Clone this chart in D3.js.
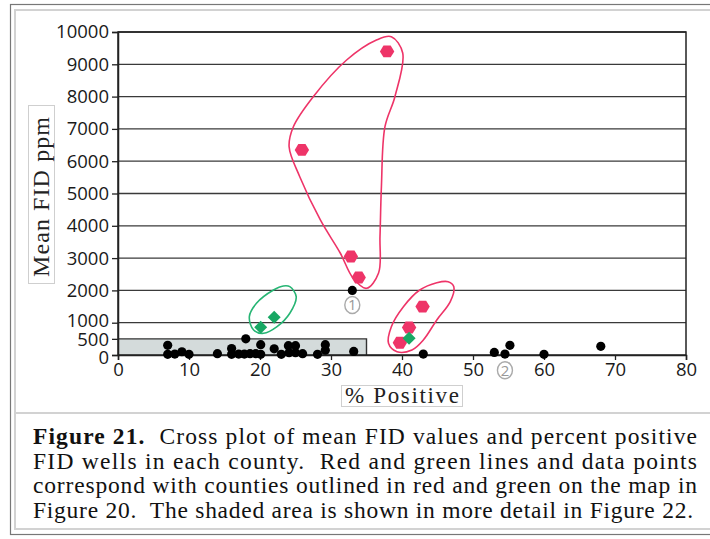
<!DOCTYPE html>
<html>
<head>
<meta charset="utf-8">
<script src="https://cdn.jsdelivr.net/npm/d3@7"></script>
<style>
  html, body { margin: 0; padding: 0; background: #fff; }
  svg { display: block; }
  .serif { font-family: "Liberation Serif", "Times New Roman", Times, serif; }
</style>
</head>
<body>
<svg id="chart" width="710" height="539"></svg>
<script>
// Mean FID (ppm) vs % positive FID wells, by county
const xTicks = [0, 10, 20, 30, 40, 50, 60, 70, 80];
const yTicks = [0, 500, 1000, 2000, 3000, 4000, 5000, 6000, 7000, 8000, 9000, 10000];
const gridValues = [1000, 2000, 3000, 4000, 5000, 6000, 7000, 8000, 9000, 10000];

// Counties outlined in red
const redPct = [37.9, 25.9, 32.8, 33.9, 42.9, 41.0, 39.7];
const redFid = [9400, 6350, 3050, 2400, 1500, 850, 380];

// Counties outlined in green
const greenPct = [20.1, 22.0, 41.0];
const greenFid = [860, 1170, 515];

// All other counties
const blackPct = [7, 7, 8, 9, 10, 14, 16, 16, 17, 18, 17.8, 18.6, 19.4, 20.1, 20.1, 22, 23, 24, 24.1, 25, 25, 26, 28.1, 29.2, 29.2, 33.2, 33, 43, 53, 54.5, 55.2, 60, 68];
const blackFid = [300, 20, 30, 100, 20, 40, 200, 20, 30, 500, 30, 40, 40, 320, 20, 190, 20, 290, 70, 290, 70, 40, 20, 320, 150, 110, 2000, 30, 80, 30, 300, 20, 270];

// Shaded region detailed in Figure 22
const shadedPct = [0, 35];
const shadedFid = [0, 500];

// Hand-drawn outlines around grouped counties (% positive, ppm)
const redLoopA = [[38.5, 9854], [40.1, 9350], [39.0, 7997], [37.6, 7068], [37.1, 5211], [36.9, 3663], [36.7, 2539], [35.0, 2065], [33.1, 2384], [31.3, 3158], [28.5, 4180], [25.6, 5520], [24.1, 6449], [24.7, 7068], [27.5, 7997], [32.2, 9133], [36.4, 9752]];
const redLoopB = [[46.5, 2269], [47.3, 2115], [46.8, 1650], [44.9, 1084], [43.0, 464], [41.4, 155], [39.3, 102], [38.1, 362], [38.5, 876], [40.2, 1495], [42.5, 2012], [44.9, 2238]];
const greenLoop = [[24.2, 2115], [25.1, 1805], [24.2, 1291], [22.4, 876], [20.5, 672], [19.1, 774], [18.5, 1186], [19.5, 1600], [21.9, 2012], [23.3, 2136]];

// Numbered callouts
const calloutLabels = ["1", "2"];
const calloutPct = [33, 54.5];
const calloutFid = [1550, -470];

const captionLines = [
  ["Figure 21.", "  Cross plot of mean FID values and percent positive"],
  ["", "FID wells in each county.  Red and green lines and data points"],
  ["", "correspond with counties outlined in red and green on the map in"],
  ["", "Figure 20.  The shaded area is shown in more detail in Figure 22."]
];

const RED = "#ee3468", GREEN = "#18a864", GREENLINE = "#27b574";
const svg = d3.select("#chart");

// Outer frame
svg.append("rect").attr("x", 10.5).attr("y", 4.5).attr("width", 720).attr("height", 530)
  .attr("fill", "none").attr("stroke", "#777").attr("stroke-width", 1.2);
svg.append("rect").attr("x", 15).attr("y", 10).attr("width", 720).attr("height", 519)
  .attr("fill", "none").attr("stroke", "#d2d2d2").attr("stroke-width", 2);
svg.append("line").attr("x1", 15).attr("x2", 710).attr("y1", 413).attr("y2", 413)
  .attr("stroke", "#d2d2d2").attr("stroke-width", 2);

const plot = { left: 118, right: 686, top: 32, bottom: 355 };
const x = d3.scaleLinear().domain([0, 80]).range([plot.left, plot.right]);
const y = d3.scaleLinear().domain([0, 10000]).range([plot.bottom, plot.top]);

// Shaded area
svg.append("rect")
  .attr("x", x(shadedPct[0])).attr("y", y(shadedFid[1]))
  .attr("width", x(shadedPct[1]) - x(shadedPct[0]))
  .attr("height", y(shadedFid[0]) - y(shadedFid[1]))
  .attr("fill", "#d4dbdb");
svg.append("path")
  .attr("d", `M${x(shadedPct[0])},${y(shadedFid[1])}H${x(shadedPct[1])}V${y(shadedFid[0])}`)
  .attr("fill", "none").attr("stroke", "#333").attr("stroke-width", 1.4);

// Gridlines
svg.append("g").selectAll("line").data(gridValues).join("line")
  .attr("x1", plot.left).attr("x2", plot.right)
  .attr("y1", d => y(d)).attr("y2", d => y(d))
  .attr("stroke", "#3a3a3a").attr("stroke-width", 1.3);

// Plot frame
svg.append("rect").attr("x", plot.left).attr("y", plot.top)
  .attr("width", plot.right - plot.left).attr("height", plot.bottom - plot.top)
  .attr("fill", "none").attr("stroke", "#222").attr("stroke-width", 1.5);

// Axes
const tickFont = "'Open Sans', 'DejaVu Sans', sans-serif";
const yAxis = svg.append("g").attr("transform", `translate(${plot.left},0)`)
  .call(d3.axisLeft(y).tickValues(yTicks).tickSize(6).tickPadding(3).tickFormat(d3.format("d")));
const xAxis = svg.append("g").attr("transform", `translate(0,${plot.bottom})`)
  .call(d3.axisBottom(x).tickValues(xTicks).tickSize(5).tickPadding(3).tickFormat(d3.format("d")));
[yAxis, xAxis].forEach(g => {
  g.select(".domain").attr("stroke", "#222").attr("stroke-width", 1.5);
  g.selectAll(".tick line").attr("stroke", "#222").attr("stroke-width", 1.3);
  g.selectAll(".tick text").attr("fill", "#1a1a1a")
    .style("font-family", tickFont).style("font-size", "18.5px");
});
// 1000 and 500 sit close together; tighten their labels a little
yAxis.selectAll(".tick text").filter(d => d === 1000).attr("dy", "0.22em");
yAxis.selectAll(".tick text").filter(d => d === 500).attr("dy", "0.36em");
yAxis.selectAll(".tick text").filter(d => d === 0).attr("dy", "0.45em");

// Group outlines
const loopLine = d3.line().x(d => x(d[0])).y(d => y(d[1])).curve(d3.curveCatmullRomClosed.alpha(0.5));
svg.append("path").attr("d", loopLine(redLoopA)).attr("fill", "none").attr("stroke", RED).attr("stroke-width", 1.6);
svg.append("path").attr("d", loopLine(redLoopB)).attr("fill", "none").attr("stroke", RED).attr("stroke-width", 1.6);
svg.append("path").attr("d", loopLine(greenLoop)).attr("fill", "none").attr("stroke", GREENLINE).attr("stroke-width", 1.6);

// Black points
svg.append("g").selectAll("circle").data(d3.range(blackPct.length)).join("circle")
  .attr("cx", i => x(blackPct[i])).attr("cy", i => y(blackFid[i])).attr("r", 4.6)
  .attr("fill", "#000");

// Red hexagons
const hex = r => d3.range(6).map(k => {
  const a = Math.PI / 3 * k;
  return [r * Math.cos(a), r * Math.sin(a) * 0.95];
});
svg.append("g").selectAll("polygon").data(d3.range(redPct.length)).join("polygon")
  .attr("points", hex(7.2).map(p => p.join(",")).join(" "))
  .attr("transform", i => `translate(${x(redPct[i])},${y(redFid[i])})`)
  .attr("fill", RED);

// Green diamonds
svg.append("g").selectAll("rect").data(d3.range(greenPct.length)).join("rect")
  .attr("x", -4.6).attr("y", -4.6).attr("width", 9.2).attr("height", 9.2)
  .attr("transform", i => `translate(${x(greenPct[i])},${y(greenFid[i])}) rotate(45)`)
  .attr("fill", GREEN);

// Callouts
const callouts = svg.append("g").selectAll("g").data(d3.range(calloutLabels.length)).join("g")
  .attr("transform", i => `translate(${x(calloutPct[i])},${y(calloutFid[i])})`);
callouts.append("ellipse").attr("rx", 7.5).attr("ry", 8.5).attr("fill", "#fff").attr("stroke", "#aaa").attr("stroke-width", 1.4);
callouts.append("text").text(i => calloutLabels[i])
  .attr("text-anchor", "middle").attr("dy", "0.36em")
  .style("font-family", tickFont).style("font-size", "15px").attr("fill", "#999");

// Axis titles
svg.append("rect").attr("x", 28.5).attr("y", 105.5).attr("width", 26).attr("height", 178)
  .attr("fill", "#fff").attr("stroke", "#cfcfcf");
svg.append("text").attr("class", "serif").text("Mean FID ppm")
  .attr("transform", "translate(49,277) rotate(-90)")
  .attr("textLength", 160).attr("lengthAdjust", "spacing")
  .style("font-size", "24px").attr("fill", "#222");

svg.append("rect").attr("x", 341.5).attr("y", 385.5).attr("width", 121).attr("height", 21)
  .attr("fill", "#fff").attr("stroke", "#cfcfcf");
svg.append("text").attr("class", "serif").text("% Positive")
  .attr("x", 345).attr("y", 403)
  .attr("textLength", 114).attr("lengthAdjust", "spacing")
  .style("font-size", "23px").attr("fill", "#222");

// Caption, justified to the box width
const capW = [664, 664, 664, 660];
captionLines.forEach((ln, i) => {
  const t = svg.append("text").attr("class", "serif")
    .attr("x", 33).attr("y", 444 + i * 24.5)
    .attr("textLength", capW[i]).attr("lengthAdjust", "spacing")
    .style("font-size", "23.5px").attr("fill", "#111")
    .style("white-space", "pre");
  if (ln[0]) t.append("tspan").attr("font-weight", "bold").text(ln[0]);
  t.append("tspan").text(ln[1]);
});
</script>
</body>
</html>
